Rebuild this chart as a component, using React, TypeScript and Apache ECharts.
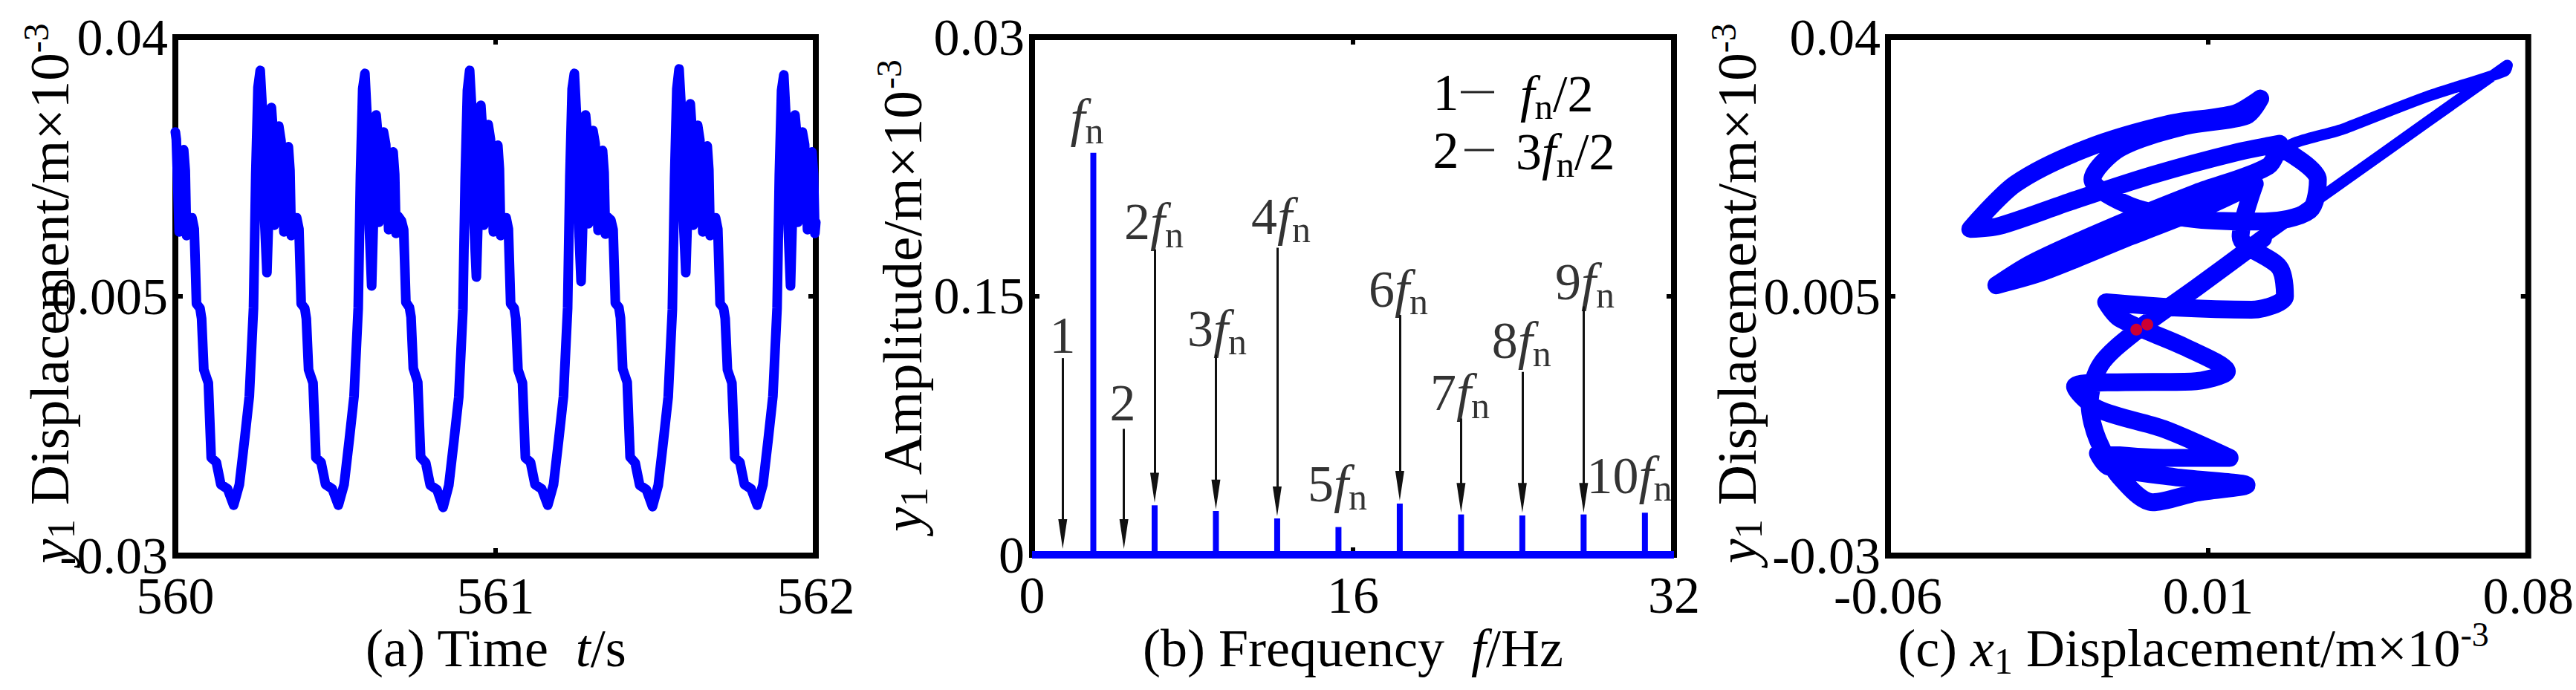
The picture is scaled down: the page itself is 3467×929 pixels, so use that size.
import React, { useEffect, useRef } from "react";
import * as echarts from "echarts";

const FONT = "'Liberation Serif', 'Times New Roman', serif";
const BLUE = "#0000FF";

// ---------- Panel (a): time series ----------
const timeTicks = [560, 561, 562];
const timeTickLabels = ["560", "561", "562"];
const dispTicks = [-0.03, 0.005, 0.04];
const dispTickLabels = ["-0.03", "0.005", "0.04"];

const timeS = [
  560.000, 560.003, 560.012, 560.019, 560.026, 560.031, 560.035, 560.042, 560.052, 560.059, 560.066, 560.077, 560.082, 560.089, 560.103, 560.112, 560.128, 560.142, 560.163, 560.182, 560.200, 560.216, 560.231, 560.244, 560.251, 560.258,
  560.265, 560.272, 560.279, 560.286, 560.293, 560.300, 560.304, 560.309, 560.316, 560.323, 560.330, 560.339, 560.346, 560.353, 560.358, 560.362, 560.369, 560.379, 560.386, 560.393, 560.404, 560.409, 560.416, 560.430, 560.439, 560.455, 560.469, 560.490, 560.509, 560.527, 560.543, 560.558, 560.571, 560.578, 560.585,
  560.592, 560.599, 560.606, 560.613, 560.620, 560.627, 560.631, 560.636, 560.643, 560.650, 560.657, 560.666, 560.673, 560.680, 560.685, 560.689, 560.696, 560.706, 560.713, 560.720, 560.731, 560.736, 560.743, 560.757, 560.766, 560.782, 560.796, 560.817, 560.836, 560.854, 560.870, 560.885, 560.898, 560.905, 560.912,
  560.919, 560.926, 560.933, 560.940, 560.947, 560.954, 560.958, 560.963, 560.970, 560.977, 560.984, 560.993, 561.000, 561.007, 561.012, 561.016, 561.023, 561.033, 561.040, 561.047, 561.058, 561.063, 561.070, 561.084, 561.093, 561.109, 561.123, 561.144, 561.163, 561.181, 561.197, 561.212, 561.225, 561.232, 561.239,
  561.246, 561.253, 561.260, 561.267, 561.274, 561.281, 561.285, 561.290, 561.297, 561.304, 561.311, 561.320, 561.327, 561.334, 561.339, 561.343, 561.350, 561.360, 561.367, 561.374, 561.385, 561.390, 561.397, 561.411, 561.420, 561.436, 561.450, 561.471, 561.490, 561.508, 561.524, 561.539, 561.552, 561.559, 561.566,
  561.573, 561.580, 561.587, 561.594, 561.601, 561.608, 561.612, 561.617, 561.624, 561.631, 561.638, 561.647, 561.654, 561.661, 561.666, 561.670, 561.677, 561.687, 561.694, 561.701, 561.712, 561.717, 561.724, 561.738, 561.747, 561.763, 561.777, 561.798, 561.817, 561.835, 561.851, 561.866, 561.879, 561.886, 561.893,
  561.900, 561.907, 561.914, 561.921, 561.928, 561.935, 561.939, 561.944, 561.951, 561.958, 561.965, 561.974, 561.981, 561.988, 561.993, 561.997, 562.000,
];
const y1Disp = [
  0.0272, 0.0262, 0.0137, 0.0200, 0.0248, 0.0220, 0.0132, 0.0156, 0.0156, 0.0141, 0.0040, 0.0034, 0.0020, -0.0049, -0.0067, -0.0168, -0.0174, -0.0204, -0.0210, -0.0232, -0.0204, -0.0144, -0.0085, 0.0034, 0.0213, 0.0332,
  0.0355, 0.0300, 0.0150, 0.0082, 0.0180, 0.0305, 0.0280, 0.0146, 0.0220, 0.0280, 0.0260, 0.0137, 0.0200, 0.0252, 0.0220, 0.0132, 0.0156, 0.0156, 0.0141, 0.0040, 0.0034, 0.0020, -0.0049, -0.0067, -0.0168, -0.0174, -0.0204, -0.0210, -0.0232, -0.0204, -0.0144, -0.0085, 0.0034, 0.0213, 0.0330,
  0.0351, 0.0290, 0.0140, 0.0064, 0.0175, 0.0295, 0.0275, 0.0150, 0.0215, 0.0272, 0.0255, 0.0140, 0.0195, 0.0245, 0.0215, 0.0135, 0.0158, 0.0152, 0.0140, 0.0042, 0.0035, 0.0022, -0.0047, -0.0066, -0.0167, -0.0175, -0.0205, -0.0211, -0.0235, -0.0205, -0.0145, -0.0086, 0.0032, 0.0210, 0.0328,
  0.0355, 0.0300, 0.0145, 0.0076, 0.0180, 0.0308, 0.0282, 0.0146, 0.0222, 0.0282, 0.0262, 0.0137, 0.0202, 0.0254, 0.0222, 0.0132, 0.0156, 0.0156, 0.0141, 0.0040, 0.0034, 0.0020, -0.0049, -0.0067, -0.0168, -0.0174, -0.0204, -0.0210, -0.0232, -0.0204, -0.0144, -0.0085, 0.0034, 0.0213, 0.0330,
  0.0351, 0.0292, 0.0142, 0.0070, 0.0176, 0.0295, 0.0276, 0.0148, 0.0216, 0.0274, 0.0256, 0.0139, 0.0196, 0.0247, 0.0217, 0.0134, 0.0157, 0.0153, 0.0140, 0.0041, 0.0035, 0.0021, -0.0048, -0.0066, -0.0167, -0.0175, -0.0205, -0.0211, -0.0234, -0.0205, -0.0145, -0.0086, 0.0032, 0.0211, 0.0330,
  0.0357, 0.0302, 0.0150, 0.0082, 0.0182, 0.0310, 0.0284, 0.0146, 0.0222, 0.0281, 0.0261, 0.0137, 0.0201, 0.0253, 0.0221, 0.0132, 0.0156, 0.0156, 0.0141, 0.0040, 0.0034, 0.0020, -0.0049, -0.0067, -0.0168, -0.0174, -0.0204, -0.0210, -0.0232, -0.0204, -0.0144, -0.0085, 0.0034, 0.0213, 0.0328,
  0.0349, 0.0290, 0.0140, 0.0064, 0.0175, 0.0295, 0.0275, 0.0150, 0.0215, 0.0272, 0.0255, 0.0140, 0.0195, 0.0245, 0.0215, 0.0135, 0.0150,
];

// ---------- Panel (b): spectrum ----------
const freqTicks = [0, 16, 32];
const freqTickLabels = ["0", "16", "32"];
const ampTicks = [0, 0.015, 0.03];
const ampTickLabels = ["0", "0.15", "0.03"];

const peakFreq = [1.53, 3.055, 4.58, 6.11, 7.64, 9.165, 10.69, 12.22, 13.75, 15.275, 16.8, 18.33, 19.86, 21.385, 22.91, 24.44, 25.97, 27.495, 29.02, 30.55];
const peakAmp = [0.00012, 0.0233, 0.00012, 0.00287, 0.0001, 0.00254, 0.0001, 0.00211, 0.0001, 0.00161, 0.0001, 0.00297, 0.0001, 0.00234, 0.0001, 0.00228, 0.0001, 0.00234, 0.0001, 0.00244];
const baseFreq = [0, 32];
const baseAmp = [0, 0];

const annotText = ["{i|f}{s|n}", "1", "2", "2{i|f}{s|n}", "3{i|f}{s|n}", "4{i|f}{s|n}", "5{i|f}{s|n}", "6{i|f}{s|n}", "7{i|f}{s|n}", "8{i|f}{s|n}", "9{i|f}{s|n}", "10{i|f}{s|n}"];
const annotFreq = [2.74, 1.52, 4.52, 6.07, 9.22, 12.41, 15.22, 18.26, 21.33, 24.4, 27.56, 29.78];
const annotAmp = [0.0253, 0.0127, 0.0088, 0.0193, 0.0131, 0.0196, 0.0041, 0.0154, 0.0094, 0.0124, 0.0158, 0.0046];

const arrowFreq = [1.53, 4.58, 6.11, 9.165, 12.22, 18.33, 21.385, 24.44, 27.495];
const arrowFrom = [0.0114, 0.0073, 0.0177, 0.0116, 0.0178, 0.0139, 0.0079, 0.0106, 0.0144];
const arrowEnd = [0.0012, 0.0012, 0.0039, 0.0035, 0.0031, 0.0040, 0.0033, 0.0033, 0.0033];

// ---------- Panel (c): phase portrait ----------
const x1Ticks = [-0.06, 0.01, 0.08];
const x1TickLabels = ["-0.06", "0.01", "0.08"];

const orbitX1 = [-0.0021, -0.0093, -0.0141, -0.0159, -0.0135, -0.0051, 0.0075, 0.022, 0.04, 0.058, 0.0754, 0.0748, 0.058, 0.04, 0.0268, 0.034, 0.0322, 0.022, 0.0075, -0.0069, -0.0153, -0.0093, 0.0051, 0.0184, 0.0214, 0.0159, 0.0015, -0.0165, -0.0321, -0.042, -0.0357, -0.0201, -0.0021, 0.0159, 0.0256, 0.0232, 0.0075, -0.0117, -0.0285, -0.0363, -0.0261, -0.0069, 0.0099, 0.0202, 0.0171, 0.0256, 0.0268, 0.0195, 0.0027, -0.0123, -0.0093, 0.0051, 0.0141, 0.0063, -0.0105, -0.0191, -0.0141, 0.0003, 0.0147, 0.0003, -0.0141, -0.0117, 0.0027, 0.0184, 0.0075, -0.0021];
const orbitY1 = [-0.0228, -0.0194, -0.0144, -0.0096, -0.0042, 0.0006, 0.0062, 0.0128, 0.0207, 0.0286, 0.0362, 0.0354, 0.032, 0.0277, 0.0247, 0.0208, 0.0166, 0.0151, 0.0154, 0.0172, 0.0208, 0.025, 0.028, 0.0294, 0.0317, 0.0297, 0.0283, 0.025, 0.0202, 0.0141, 0.0145, 0.0178, 0.0214, 0.0244, 0.0256, 0.0226, 0.019, 0.0142, 0.0095, 0.0065, 0.0083, 0.0131, 0.0172, 0.0202, 0.0131, 0.0089, 0.005, 0.0032, 0.0035, 0.0042, 0.002, -0.0019, -0.0051, -0.0065, -0.0066, -0.0072, -0.0102, -0.0129, -0.0168, -0.0168, -0.0162, -0.018, -0.0194, -0.0205, -0.0215, -0.0228];
const sectionX1 = [-0.0057, -0.0033];
const sectionY1 = [0.0005, 0.0012];

// ---------- helpers ----------
const rich = {
  i: { fontStyle: "italic", fontSize: 72, fontFamily: FONT, lineHeight: 84, color: "#000" },
  s: { fontSize: 50, fontFamily: FONT, lineHeight: 40, verticalAlign: "bottom", color: "#000" },
  p: { fontSize: 46, fontFamily: FONT, lineHeight: 50, verticalAlign: "top", color: "#000" },
};
const graphicRich = (size: number) => ({
  i: { fontStyle: "italic", fontSize: size, fontFamily: FONT, lineHeight: 84, fill: "#000" },
  s: { fontSize: Math.round(size * 0.7), fontFamily: FONT, lineHeight: 40, verticalAlign: "bottom", fill: "#000" },
  p: { fontSize: Math.round(size * 0.64), fontFamily: FONT, lineHeight: 50, verticalAlign: "top", fill: "#000" },
});

const fmt = (ticks: number[], labels: string[]) => (v: number) => {
  const i = ticks.findIndex((t) => Math.abs(t - v) < 1e-9);
  return i >= 0 ? labels[i] : "";
};

const tickStyle = (mid: number) => ({
  show: true,
  inside: true,
  length: 10,
  customValues: [mid],
  lineStyle: { color: "#000", width: 6 },
});

const hiddenLine = { show: false, onZero: false };

function xAxes(gi: number, ticks: number[], labels: string[]) {
  return [
    {
      type: "value", gridIndex: gi, position: "bottom", min: ticks[0], max: ticks[2],
      axisLine: hiddenLine, splitLine: { show: false },
      axisTick: tickStyle(ticks[1]),
      axisLabel: {
        show: true, customValues: ticks, formatter: fmt(ticks, labels), margin: 54,
        verticalAlign: "middle", fontSize: 70, lineHeight: 52, fontFamily: FONT, color: "#000",
      },
    },
    {
      type: "value", gridIndex: gi, position: "top", min: ticks[0], max: ticks[2],
      axisLine: hiddenLine, splitLine: { show: false },
      axisTick: tickStyle(ticks[1]), axisLabel: { show: false },
    },
  ];
}
function yAxes(gi: number, ticks: number[], labels: string[]) {
  return [
    {
      type: "value", gridIndex: gi, position: "left", min: ticks[0], max: ticks[2],
      axisLine: hiddenLine, splitLine: { show: false },
      axisTick: tickStyle(ticks[1]),
      axisLabel: {
        show: true, customValues: ticks, formatter: fmt(ticks, labels), margin: 10,
        fontSize: 70, lineHeight: 52, fontFamily: FONT, color: "#000",
      },
    },
    {
      type: "value", gridIndex: gi, position: "right", min: ticks[0], max: ticks[2],
      axisLine: hiddenLine, splitLine: { show: false },
      axisTick: tickStyle(ticks[1]), axisLabel: { show: false },
    },
  ];
}

const gridBase = { show: true, borderColor: "#000", borderWidth: 8, backgroundColor: "transparent" };

function titleText(x: number, y: number, text: string, rotate = false, size = 72) {
  return {
    type: "text", x, y, rotation: rotate ? Math.PI / 2 : 0, z: 10,
    style: {
      text, fontSize: size, fontFamily: FONT, fill: "#000", align: "center",
      verticalAlign: "middle", lineHeight: 84, rich: graphicRich(size),
    },
  };
}

function buildOption(): any {
  const r70 = graphicRich(70);
  const graphic: any[] = [
    titleText(667, 873, "(a) Time  {i|t}/s"),
    titleText(1821, 873, "(b) Frequency  {i|f}/Hz"),
    titleText(2952, 873, "(c) {i|x}{s|1} Displacement/m×10{p|-3}"),
    titleText(66, 395, "{i|y}{s|1} Displacement/m×10{p|-3}", true, 75),
    titleText(1214, 398, "{i|y}{s|1} Amplitude/m×10{p|-3}", true, 75),
    titleText(2337, 395, "{i|y}{s|1} Displacement/m×10{p|-3}", true, 75),
    // key of the numbered arrows in panel (b)
    { type: "text", x: 1946, y: 124, z: 10, style: { text: "1", fontSize: 70, fontFamily: FONT, fill: "#000", align: "center", verticalAlign: "middle" } },
    { type: "line", z: 10, shape: { x1: 1966, y1: 124, x2: 2011, y2: 124 }, style: { stroke: "#222", lineWidth: 3 } },
    { type: "text", x: 2046, y: 126, z: 10, style: { text: "{i|f}{s|n}/2", fontSize: 70, fontFamily: FONT, fill: "#000", align: "left", verticalAlign: "middle", lineHeight: 84, rich: r70 } },
    { type: "text", x: 1946, y: 202, z: 10, style: { text: "2", fontSize: 70, fontFamily: FONT, fill: "#000", align: "center", verticalAlign: "middle" } },
    { type: "line", z: 10, shape: { x1: 1971, y1: 202, x2: 2011, y2: 202 }, style: { stroke: "#222", lineWidth: 3 } },
    { type: "text", x: 2040, y: 204, z: 10, style: { text: "3{i|f}{s|n}/2", fontSize: 70, fontFamily: FONT, fill: "#000", align: "left", verticalAlign: "middle", lineHeight: 84, rich: r70 } },
  ];

  const orbit = orbitX1.map((x, i) => [x, orbitY1[i]]);
  const orbitBody = orbit.slice(14).concat(orbit.slice(0, 8));

  return {
    animation: false,
    backgroundColor: "#fff",
    textStyle: { fontFamily: FONT },
    grid: [
      { ...gridBase, left: 236, top: 50, width: 862, height: 698 },
      { ...gridBase, left: 1389, top: 50, width: 864, height: 697 },
      { ...gridBase, left: 2541, top: 50, width: 864, height: 698 },
    ],
    xAxis: [
      ...xAxes(0, timeTicks, timeTickLabels),
      ...xAxes(1, freqTicks, freqTickLabels),
      ...xAxes(2, x1Ticks, x1TickLabels),
    ],
    yAxis: [
      ...yAxes(0, dispTicks, dispTickLabels),
      ...yAxes(1, ampTicks, ampTickLabels),
      ...yAxes(2, dispTicks, dispTickLabels),
    ],
    series: [
      {
        type: "line", xAxisIndex: 0, yAxisIndex: 0, symbol: "none", showSymbol: false,
        data: timeS.map((t, i) => [t, y1Disp[i]]),
        lineStyle: { color: BLUE, width: 13, join: "round", cap: "round" },
      },
      {
        type: "line", xAxisIndex: 2, yAxisIndex: 2, symbol: "none", showSymbol: false,
        data: baseFreq.map((f, i) => [f, baseAmp[i]]),
        lineStyle: { color: BLUE, width: 10 },
      },
      {
        type: "bar", xAxisIndex: 2, yAxisIndex: 2, barWidth: 8,
        data: peakFreq.map((f, i) => [f, peakAmp[i]]),
        itemStyle: { color: BLUE },
      },
      {
        type: "scatter", xAxisIndex: 2, yAxisIndex: 2, symbolSize: 1,
        itemStyle: { color: "rgba(0,0,0,0)" },
        data: annotFreq.map((f, i) => [f, annotAmp[i]]),
        label: {
          show: true, position: "inside", fontSize: 70, fontFamily: FONT, color: "#000",
          lineHeight: 84, formatter: (p: any) => annotText[p.dataIndex], rich,
        },
        markLine: {
          silent: true, symbol: ["none", "triangle"], symbolSize: [12, 40],
          label: { show: false },
          lineStyle: { color: "#111", width: 3, type: "solid" },
          data: arrowFreq.map((f, i) => [{ coord: [f, arrowFrom[i]] }, { coord: [f, arrowEnd[i]] }]),
        },
      },
      {
        type: "line", xAxisIndex: 4, yAxisIndex: 4, symbol: "none", showSymbol: false, smooth: 0.3,
        data: orbit,
        lineStyle: { color: BLUE, width: 15, join: "round", cap: "round" },
      },
      {
        type: "line", xAxisIndex: 4, yAxisIndex: 4, symbol: "none", showSymbol: false, smooth: 0.3,
        data: orbitBody,
        lineStyle: { color: BLUE, width: 24, join: "round", cap: "round" },
      },
      {
        type: "scatter", xAxisIndex: 4, yAxisIndex: 4, symbolSize: 16, z: 5,
        data: sectionX1.map((x, i) => [x, sectionY1[i]]),
        itemStyle: { color: "#FF0000" },
      },
    ],
    graphic,
  };
}

export default function App() {
  const ref = useRef<HTMLDivElement>(null);
  useEffect(() => {
    document.body.style.margin = "0";
    const chart = echarts.init(ref.current!, null, { renderer: "svg" });
    chart.setOption(buildOption());
    return () => chart.dispose();
  }, []);
  return <div ref={ref} style={{ width: 3467, height: 929 }} />;
}
